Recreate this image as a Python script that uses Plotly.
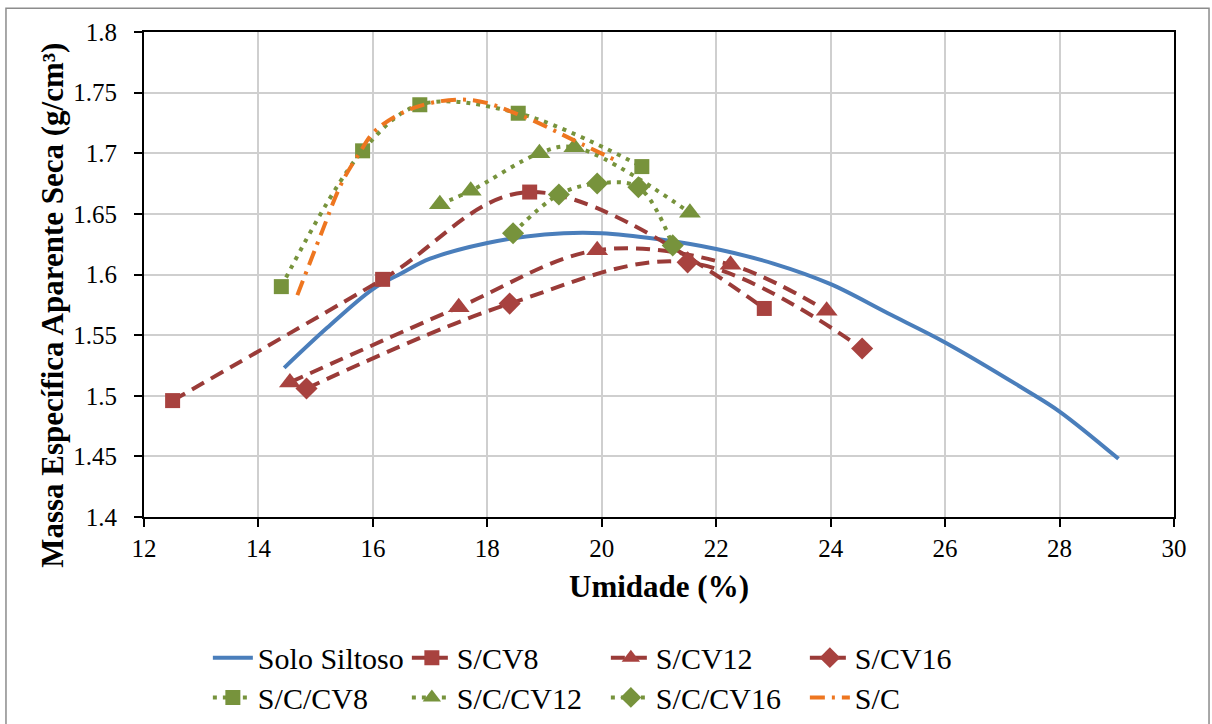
import plotly.graph_objects as go

# ---------------- data ----------------
solo_x = [14.45, 15.2, 16.0, 16.5, 17.0, 18.0, 19.0, 20.0, 21.0, 22.0, 23.0, 24.0, 25.0, 26.0, 27.4, 28.0, 29.03]
solo_y = [1.523, 1.556, 1.588, 1.601, 1.613, 1.626, 1.633, 1.634, 1.629, 1.621, 1.609, 1.592, 1.568, 1.544, 1.505, 1.487, 1.448]

scv8_x = [12.5, 16.17, 18.74, 22.84]
scv8_y = [1.496, 1.596, 1.668, 1.572]

scv12_x = [14.55, 17.5, 19.92, 22.25, 23.93]
scv12_y = [1.511, 1.573, 1.620, 1.608, 1.570]

scv16_x = [14.84, 18.39, 21.5, 24.55]
scv16_y = [1.506, 1.576, 1.610, 1.539]

sccv8_x = [14.4, 15.82, 16.82, 18.54, 20.7]
sccv8_y = [1.590, 1.702, 1.740, 1.733, 1.689]

sccv12_x = [17.17, 17.71, 18.91, 19.52, 21.54]
sccv12_y = [1.658, 1.669, 1.700, 1.705, 1.651]

sccv16_x = [18.45, 19.25, 19.92, 20.64, 21.24]
sccv16_y = [1.634, 1.666, 1.675, 1.672, 1.624]

sc_x = [14.68, 15.1, 15.45, 15.75, 16.05, 16.75, 17.7, 18.6, 19.5, 20.25]
sc_y = [1.583, 1.634, 1.675, 1.699, 1.719, 1.738, 1.744, 1.731, 1.711, 1.694]

x_ticks = [12, 14, 16, 18, 20, 22, 24, 26, 28, 30]
y_ticks = [1.4, 1.45, 1.5, 1.55, 1.6, 1.65, 1.7, 1.75, 1.8]
y_tick_labels = ["1.4", "1.45", "1.5", "1.55", "1.6", "1.65", "1.7", "1.75", "1.8"]

names = ["Solo Siltoso", "S/CV8", "S/CV12", "S/CV16", "S/C/CV8", "S/C/CV12", "S/C/CV16", "S/C"]

# ---------------- styles ----------------
BLUE = "#4A7EBB"
RED_LINE = "#9A3B38"
RED_MK = "#A8423F"
GREEN = "#77933C"
ORANGE = "#EE7620"
FONT = "Liberation Serif"

fig = go.Figure()

fig.add_trace(go.Scatter(x=solo_x, y=solo_y, name=names[0], mode="lines",
                         line=dict(color=BLUE, width=4, shape="spline", smoothing=1.0),
                         legend="legend"))

red_dash = "14px,8px"
for xs, ys, nm, sym, sz in [(scv8_x, scv8_y, names[1], "square", 15),
                            (scv12_x, scv12_y, names[2], "triangle-up", 19),
                            (scv16_x, scv16_y, names[3], "diamond", 17)]:
    fig.add_trace(go.Scatter(x=xs, y=ys, name=nm, mode="lines+markers",
                             line=dict(color=RED_LINE, width=4, dash=red_dash, shape="spline", smoothing=1.0),
                             marker=dict(symbol=sym, size=sz, color=RED_MK, line=dict(width=0)),
                             legend="legend"))

green_dot = "4px,6px"
for xs, ys, nm, sym, sz in [(sccv8_x, sccv8_y, names[4], "square", 15),
                            (sccv12_x, sccv12_y, names[5], "triangle-up", 19),
                            (sccv16_x, sccv16_y, names[6], "diamond", 17)]:
    fig.add_trace(go.Scatter(x=xs, y=ys, name=nm, mode="lines+markers",
                             line=dict(color=GREEN, width=4, dash=green_dot, shape="spline", smoothing=1.0),
                             marker=dict(symbol=sym, size=sz, color=GREEN, line=dict(width=0)),
                             legend="legend2"))

fig.add_trace(go.Scatter(x=sc_x, y=sc_y, name=names[7], mode="lines",
                         line=dict(color=ORANGE, width=4, dash="15px,7px,3px,7px", shape="spline", smoothing=1.0),
                         legend="legend2"))

axis_common = dict(showline=True, linecolor="black", linewidth=2, mirror=True,
                   showgrid=True, gridcolor="#CFCFCF", gridwidth=1.5,
                   ticks="outside", ticklen=8, tickwidth=1.5, tickcolor="black",
                   tickfont=dict(family=FONT, size=25, color="black"), zeroline=False)

fig.update_xaxes(range=[12, 30], tickmode="array", tickvals=x_ticks,
                 title=dict(text="<b>Umidade (%)</b>", font=dict(family=FONT, size=31, color="black"), standoff=14),
                 **axis_common)
fig.update_yaxes(range=[1.4, 1.8], tickmode="array", tickvals=y_ticks, ticktext=y_tick_labels,
                 ticklabelstandoff=12, **axis_common)

legend_common = dict(orientation="h", xanchor="left", yanchor="middle",
                     font=dict(family=FONT, size=30, color="black"),
                     entrywidth=144, entrywidthmode="pixels", itemwidth=40,
                     bgcolor="rgba(0,0,0,0)", borderwidth=0, itemclick=False)

fig.update_layout(
    width=1212, height=724,
    margin=dict(l=144, r=38, t=32, b=207, autoexpand=False),
    paper_bgcolor="white", plot_bgcolor="white",
    font=dict(family=FONT, color="black"),
    legend=dict(x=0.062, y=-0.290, **legend_common),
    legend2=dict(x=0.062, y=-0.372, **legend_common),
    annotations=[dict(text="<b>Massa Específica Aparente Seca (g/cm³)</b>", textangle=-90,
                      xref="paper", yref="paper", x=-0.089, y=0.436, xanchor="center", yanchor="middle",
                      showarrow=False, font=dict(family=FONT, size=31, color="black"))],
    shapes=[dict(type="rect", xref="paper", yref="paper", x0=-0.134, x1=1.034, y0=-0.5, y1=1.049,
                 line=dict(color="#8C8C8C", width=1.5), fillcolor="rgba(0,0,0,0)", layer="below")],
)

fig.write_html("out.html")
